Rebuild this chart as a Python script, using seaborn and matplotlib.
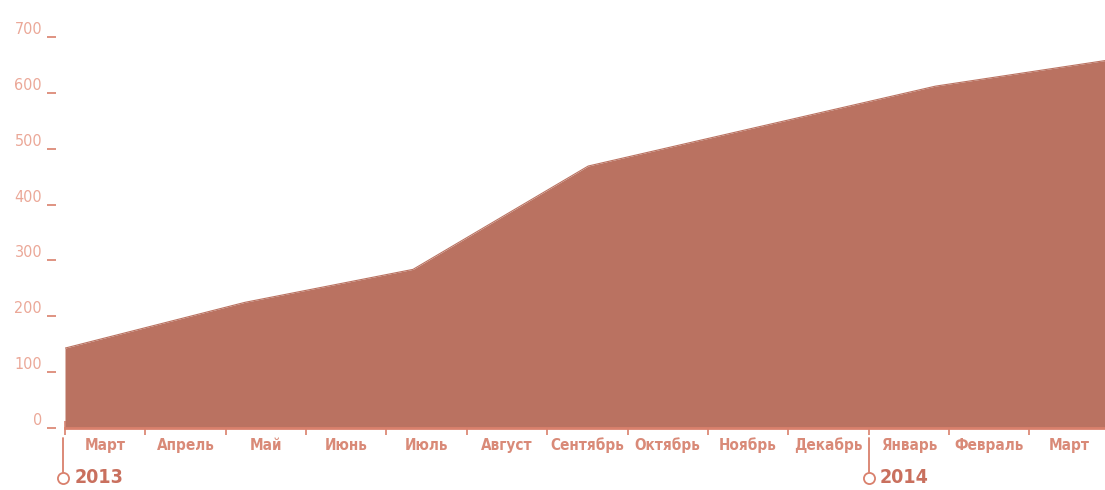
import matplotlib
matplotlib.use("Agg")
import matplotlib.pyplot as plt
import seaborn as sns
import numpy as np
import pandas as pd

# --- data (x in months since 1 March 2013) ---
month_pos = [0.0, 2.24, 4.33, 6.51, 10.83, 12.95]
values = [143, 225, 284, 469, 612, 658]
month_labels = ["Март", "Апрель", "Май", "Июнь", "Июль", "Август", "Сентябрь",
                "Октябрь", "Ноябрь", "Декабрь", "Январь", "Февраль", "Март"]
year_labels = ["2013", "2014"]
year_pos = [0, 10]
y_ticks = [0, 100, 200, 300, 400, 500, 600, 700]

AREA = "#BA7261"
AXIS = "#D9806C"
LABEL = "#D98A78"
YLAB = "#EBA898"
YEAR = "#C9705E"

sns.set_theme(style="white")
plt.rcParams['font.family'] = ['DejaVu Sans']
plt.rcParams['font.stretch'] = 'condensed'

fig = plt.figure(figsize=(11.05, 4.9), dpi=100)
W, H = 1105, 490
ax = fig.add_axes([65 / W, (H - 428) / H, 1 - 65 / W, (428 - 37) / H])

df = pd.DataFrame({"m": month_pos, "v": values})
ax.fill_between(df["m"], df["v"], 0, color=AREA, lw=0)
sns.lineplot(data=df, x="m", y="v", ax=ax, color=AREA, lw=0.8)

ax.set_xlim(0, 12.94)
ax.set_ylim(0, 700)
ax.set_xlabel("")
ax.set_ylabel("")

for s in ["top", "right", "left"]:
    ax.spines[s].set_visible(False)
ax.spines["bottom"].set_color(AXIS)
ax.spines["bottom"].set_linewidth(2)
ax.spines["bottom"].set_zorder(5)

# x ticks: month boundaries (major), labels at month centers (minor)
ax.set_xticks(np.arange(0, 13))
ax.set_xticklabels([])
ax.tick_params(axis="x", which="major", direction="inout", length=10, width=1.2,
               color=AXIS, bottom=True)
ax.set_xticks(np.arange(13) + 0.5, minor=True)
ax.set_xticklabels(month_labels, minor=True)
ax.tick_params(axis="x", which="minor", length=0, pad=7, labelsize=11,
               labelcolor=LABEL)
for t in ax.get_xticklabels(minor=True):
    t.set_fontweight("bold")
    t.set_fontstretch("condensed")

# y ticks offset to the left
ax.spines["left"].set_position(("outward", 6.5))
ax.set_yticks(y_ticks)
ax.set_yticklabels([str(v) for v in y_ticks])
ax.tick_params(axis="y", direction="out", length=6.5, width=1.2, color=AXIS,
               left=True, pad=3.5, labelsize=11.5, labelcolor=YLAB)
for t in ax.get_yticklabels():
    t.set_verticalalignment("bottom")
    t.set_fontstretch("condensed")

# year markers
trans = ax.get_xaxis_transform()
for yp, yl in zip(year_pos, year_labels):
    xoff = -0.025 if yp == 0 else 0.0
    ax.plot([yp + xoff, yp + xoff], [-0.025, -0.113], transform=trans, color=AXIS,
            lw=1.3, clip_on=False)
    ax.plot([yp + xoff], [-0.127], transform=trans, marker="o", ms=8, mfc="white",
            mec=AXIS, mew=1.3, clip_on=False)
    ax.text(yp + xoff + 0.14, -0.127, yl, transform=trans, color=YEAR,
            fontsize=14, fontweight="bold", fontstretch="condensed",
            va="center", ha="left")

fig.savefig("out.png", dpi=100)
